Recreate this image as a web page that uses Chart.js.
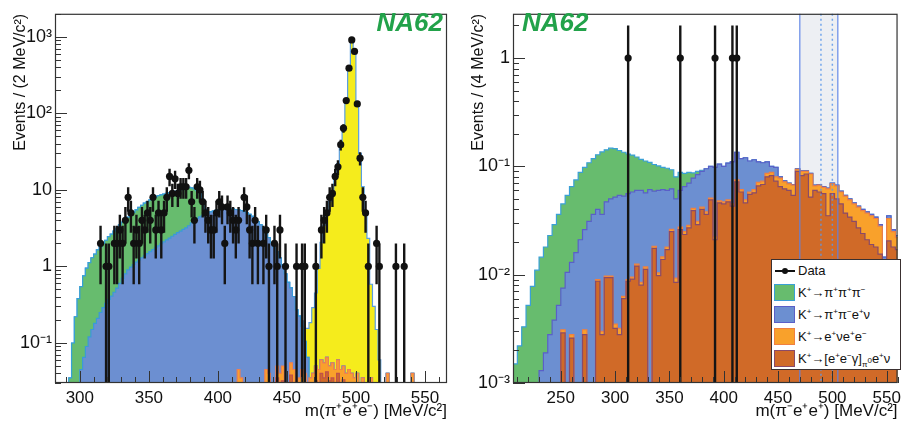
<!DOCTYPE html>
<html>
<head>
<meta charset="utf-8">
<script src="https://cdn.jsdelivr.net/npm/chart.js@4.4.1/dist/chart.umd.min.js"></script>
<style>
  body { margin: 0; background: #fff; width: 906px; height: 425px; position: relative; overflow: hidden; }
  .panel { position: absolute; top: 0; width: 453px; height: 425px; }
  #pl { left: 0; }
  #pr { left: 453px; }
  .na62 { position: absolute; top: 9px; font: italic bold 26px/26px 'Liberation Sans', Arial, sans-serif; color: #22a24a; }
  .leg { position: absolute; left: 318px; top: 259px; width: 128px; height: 109px; background: #fff;
         border: 1.5px solid #3a3030; font: 13px/22px 'Liberation Sans', Arial, sans-serif; color: #111; }
  .leg .row { position: relative; height: 22px; padding-left: 26px; white-space: nowrap; }
  .leg .sw { position: absolute; left: 2px; top: 2px; width: 19px; height: 15px; border: 1.5px solid; }
  .leg .dline { position: absolute; left: 3px; top: 10px; width: 20px; height: 2px; background: #111; }
  .leg .ddot { position: absolute; left: 10px; top: 8px; width: 6px; height: 6px; border-radius: 50%; background: #111; }
  .leg sup, .leg sub { font-size: 8px; line-height: 0; }
</style>
</head>
<body>
<div id="pl" class="panel">
  <canvas id="cl" width="453" height="425"></canvas>
  <div class="na62" style="right:10px">NA62</div>
</div>
<div id="pr" class="panel">
  <canvas id="cr" width="453" height="425"></canvas>
  <div class="na62" style="left:69px">NA62</div>
  <div class="leg" id="leg"></div>
</div>
<script>
// ---------- left panel: m(pi+ e+ e-), 2 MeV bins ----------
const leftXRange = [282, 566];
const leftYRange = [0.03, 2000];
const leftXTicks = [300, 350, 400, 450, 500, 550];
const leftYTicks = [0.1, 1, 10, 100, 1000];

// MC components, values per bin, first bin low edge in *Start
const leftEegStart = 414;
const leftEeg = [0.03, 0.025, 0, 0, 0, 0, 0, 0, 0, 0, 0.03, 0.028, 0, 0, 0.035, 0.028, 0.032, 0, 0, 0.038,
  0.03, 0, 0.022, 0.03, 0.026, 0.02, 0.022, 0.026, 0.032, 0.03, 0.04, 0.035, 0.042, 0.032, 0.035, 0.03,
  0.04, 0.03, 0.033, 0.026, 0.03, 0.026, 0.022, 0.026, 0.02, 0.022, 0.02, 0.02, 0.022, 0, 0, 0, 0, 0,
  0.025, 0, 0, 0, 0, 0, 0, 0, 0, 0.025];
const leftEnuStart = 414;
const leftEnu = [0.015, 0.01, 0, 0, 0, 0, 0, 0, 0, 0, 0.015, 0.012, 0, 0, 0.015, 0.012, 0.018, 0, 0, 0.017,
  0.015, 0, 0.013, 0.015, 0.014, 0.01, 0.013, 0.014, 0.018, 0.015, 0.02, 0.02, 0.023, 0.018, 0.02, 0.015,
  0.02, 0.015, 0.017, 0.014, 0.015, 0.014, 0.013, 0.014, 0.01, 0.013, 0.01, 0.01, 0.013, 0, 0, 0, 0, 0,
  0.015, 0, 0, 0, 0, 0, 0, 0, 0, 0.015];
const leftBlueStart = 298;
const leftBlue = [0.03, 0.045, 0.065, 0.09, 0.12, 0.15, 0.18, 0.21, 0.25, 0.29, 0.33, 0.37, 0.41, 0.46,
  0.52, 0.6, 0.7, 0.8, 0.9, 0.98, 1.06, 1.14, 1.22, 1.3, 1.38, 1.47, 1.56, 1.66, 1.76, 1.86, 1.98, 2.1,
  2.22, 2.35, 2.48, 2.62, 2.76, 2.9, 3.05, 3.2, 3.4, 3.7, 4.0, 4.25, 4.45, 4.65, 4.85, 5.0, 5.15, 5.3,
  5.4, 5.5, 5.6, 5.65, 5.7, 5.7, 5.65, 5.55, 5.45, 5.35, 5.2, 5.0, 4.8, 4.5, 4.2, 3.85, 3.5, 3.1, 2.7,
  2.35, 2.05, 1.75, 1.5, 1.25, 1.0, 0.8, 0.62, 0.47, 0.36, 0.27, 0.19, 0.12, 0.065, 0.035];
const leftGreenStart = 290;
const leftGreen = [0, 0.035, 0.1, 0.22, 0.35, 0.5, 0.69, 0.86, 1.0, 1.15, 1.27, 1.44, 1.55, 1.71, 1.87,
  2.08, 2.24, 2.44, 2.63, 2.9, 3.1, 3.3, 3.5, 3.72, 4.04, 4.36, 4.68, 5.0, 5.32, 5.53, 5.84, 6.14, 6.34,
  6.54, 6.62, 6.7, 6.78, 6.85, 6.92, 6.98, 7.04, 7.1, 7.25, 7.3, 7.4, 6.9, 6.3, 5.55, 4.75, 2.85, 0.75];
const leftYellowStart = 460;
const leftYellow = [0.03, 0.05, 0.09, 0.15, 0.25, 0.4, 0.9, 2.0, 3.4, 5.0, 7.0, 9.5, 14, 22, 38, 66, 140,
  400, 930, 650, 140, 30, 11, 5, 2.3, 0.55, 0.3, 0.15, 0.06, 0.03];

const leftDataM = [315, 319, 321, 325, 327, 329, 331, 333, 335, 337, 339, 341, 343, 345, 347, 349, 351,
  353, 355, 357, 359, 361, 363, 365, 367, 369, 371, 373, 375, 377, 379, 381, 383, 385, 387, 389, 391, 393,
  395, 397, 399, 401, 403, 405, 407, 409, 411, 413, 415, 419, 421, 423, 425, 427, 429, 433, 435, 437, 441,
  443, 445, 449, 457, 461, 463, 471, 475, 477, 479, 481, 483, 485, 487, 489, 491, 493, 495, 497, 499, 501,
  503, 505, 507, 509, 515, 517, 529, 535];
const leftDataN = [2, 1, 1, 2, 2, 3, 2, 4, 8, 5, 2, 3, 2, 4, 3, 5, 4, 8, 3, 5, 3, 5, 8, 15, 9, 14, 9, 11,
  11, 11, 18, 7, 4, 11, 10, 7, 5, 4, 3, 3, 5, 7, 6, 2, 6, 5, 4, 3, 4, 8, 6, 3, 2, 4, 2, 2, 3, 1, 2, 1, 3,
  1, 1, 1, 1, 1, 3, 4, 5, 8, 9, 15, 20, 39, 64, 147, 390, 910, 645, 133, 26, 8, 5, 1, 2, 1, 1, 1];

// ---------- right panel: m(pi- e+ e+), 4 MeV bins from 206 ----------
const rightXRange = [206, 560];
const rightYRange = [0.001, 2.56];
const rightXTicks = [250, 300, 350, 400, 450, 500, 550];
const rightYTicks = [0.001, 0.01, 0.1, 1];
const rightStart = 206;
const rightEeg = [0, 0, 0, 0, 0, 0, 0, 0, 0, 0, 0, 0.0029, 0, 0.0026, 0, 0, 0.0028, 0, 0, 0.0087, 0.0028,
  0.0094, 0.0094, 0.0032, 0.0028, 0.006, 0.0087, 0.0091, 0.012, 0.008, 0.0112, 0, 0.0175, 0.0098, 0.0138,
  0.017, 0.025, 0.0085, 0.026, 0.0235, 0.027, 0.039, 0.029, 0.04, 0.036, 0.049, 0.021, 0.046, 0.045,
  0.047, 0.043, 0.072, 0.058, 0.046, 0.055, 0.057, 0.066, 0.068, 0.08, 0.082, 0.073, 0.065, 0.062, 0.06,
  0.054, 0.09, 0.082, 0.085, 0.052, 0.06, 0.058, 0.056, 0.035, 0.056, 0.05, 0.045, 0.037, 0.034, 0.031,
  0.027, 0.024, 0.021, 0.019, 0.018, 0.0155, 0.0135, 0.0205, 0.018, 0.017];
const rightEnu = [0, 0, 0, 0, 0, 0, 0, 0, 0, 0, 0, 0.0002, 0, 0.0002, 0, 0, 0.0003, 0, 0, 0.0003, 0.0002,
  0.0003, 0.0003, 0.0003, 0.0004, 0.0003, 0.0003, 0.0004, 0.0005, 0.0005, 0.0006, 0, 0.0008, 0.0006,
  0.0008, 0.001, 0.0012, 0.0008, 0.0015, 0.0015, 0.0015, 0.002, 0.002, 0.002, 0.002, 0.002, 0.0015, 0.002,
  0.002, 0.002, 0.002, 0.003, 0.003, 0.003, 0.003, 0.004, 0.005, 0.005, 0.006, 0.006, 0.007, 0.013, 0.01,
  0.009, 0.013, 0.004, 0.008, 0.005, 0.033, 0.006, 0.009, 0.008, 0.027, 0.013, 0.016, 0.013, 0.016,
  0.015, 0.014, 0.015, 0.015, 0.016, 0.016, 0.015, 0.0125, 0, 0.0125, 0.007, 0.005];
const rightBlue = [0, 0, 0, 0, 0, 0.0009, 0.0013, 0.0019, 0.0028, 0.0038, 0.0052, 0.0044, 0.0105, 0.0102,
  0.016, 0.021, 0.0229, 0.031, 0.036, 0.031, 0.033, 0.0373, 0.0403, 0.0485, 0.0508, 0.0467, 0.047, 0.0485,
  0.0475, 0.0515, 0.0452, 0.061, 0.0407, 0.0496, 0.0464, 0.042, 0.0358, 0.0407, 0.0325, 0.04, 0.0415,
  0.037, 0.053, 0.048, 0.057, 0.049, 0.0755, 0.057, 0.053, 0.058, 0.065, 0.06, 0.057, 0.071, 0.054, 0.054,
  0.039, 0.035, 0.024, 0.012, 0.018, 0.002, 0.0015, 0.001, 0.001, 0.001, 0.001, 0.001, 0.001, 0.001,
  0.001, 0.001, 0.001, 0.001, 0.001, 0.001, 0.001, 0.001, 0.001, 0.001, 0.001, 0.001, 0.001, 0.001,
  0.001, 0.001, 0.002, 0.001, 0.001];
const rightGreen = [0.0015, 0.0022, 0.0033, 0.0052, 0.0078, 0.0101, 0.0132, 0.0161, 0.0202, 0.0252,
  0.0308, 0.0375, 0.0435, 0.052, 0.059, 0.067, 0.072, 0.077, 0.082, 0.088, 0.1, 0.095, 0.097, 0.094, 0.086,
  0.082, 0.074, 0.069, 0.062, 0.056, 0.055, 0.048, 0.045, 0.041, 0.037, 0.036, 0.031, 0.03, 0.028, 0.021,
  0.018, 0.009, 0.006, 0.002];
const rightDataM = [312, 360, 392, 408, 412];
const rightDataN = [1, 1, 1, 1, 1];
const rightSignalEdges = [470, 505];
const rightSignalInner = [489.5, 500];

const legendItems = [
  { label: 'K<sup>+</sup>→π<sup>+</sup>π<sup>+</sup>π<sup>−</sup>', fill: '#67bc6e', line: '#3aa0d6' },
  { label: 'K<sup>+</sup>→π<sup>+</sup>π<sup>−</sup>e<sup>+</sup>ν', fill: '#6c8fd1', line: '#5a5fc8' },
  { label: 'K<sup>+</sup>→e<sup>+</sup>νe<sup>+</sup>e<sup>−</sup>', fill: '#f9a12b', line: '#f08040' },
  { label: 'K<sup>+</sup>→[e<sup>+</sup>e<sup>−</sup>γ]<sub>π<sup>0</sup></sub>e<sup>+</sup>ν', fill: '#d06a28', line: '#8a4a68' }
];

const FLOOR = 1e-5;
const FONT = "'Liberation Sans', Arial, sans-serif";

// sum components (bottom -> top) on a common grid
function stackLayers(comps, start, width, nBins) {
  let cum = new Array(nBins).fill(0);
  return comps.map(c => {
    const off = Math.round((c.start - start) / width);
    cum = cum.map((v, i) => {
      const j = i - off;
      return v + (j >= 0 && j < c.values.length ? c.values[j] : 0);
    });
    return cum.slice();
  });
}

function histDataset(cum, start, width, fill, line, order) {
  const pts = [{ x: start, y: FLOOR }];
  cum.forEach((v, i) => pts.push({ x: start + i * width, y: Math.max(v, FLOOR) }));
  pts.push({ x: start + cum.length * width, y: Math.max(cum[cum.length - 1], FLOOR) });
  pts.push({ x: start + cum.length * width, y: FLOOR });
  return {
    data: pts, stepped: true, fill: 'start', backgroundColor: fill, borderColor: line,
    borderWidth: 1.2, pointRadius: 0, order
  };
}

function dataSets(ms, ns) {
  const bars = [];
  ms.forEach((m, i) => {
    const e = Math.sqrt(ns[i]);
    bars.push({ x: m, y: Math.max(ns[i] - e, FLOOR) }, { x: m, y: ns[i] + e }, { x: m, y: null });
  });
  return [
    { data: ms.map((m, i) => ({ x: m, y: ns[i] })), showLine: false, pointRadius: 3.6,
      pointBackgroundColor: '#111', pointBorderWidth: 0, order: 0 },
    { data: bars, borderColor: '#151515', borderWidth: 2.4, pointRadius: 0, spanGaps: false, order: 1 }
  ];
}

function decadeLabel(v) {
  const e = Math.round(Math.log10(v));
  if (e === 0) return '1';
  if (e === 1) return '10';
  const sup = { '-': '⁻', '0': '⁰', '1': '¹', '2': '²', '3': '³' };
  return '10' + String(e).split('').map(c => sup[c]).join('');
}

const rootFrame = {
  id: 'rootFrame',
  beforeDatasetsDraw(chart, args, opts) {
    if (!opts.band) return;
    const { ctx, chartArea: a, scales: { x } } = chart;
    const x0 = x.getPixelForValue(opts.band[0]), x1 = x.getPixelForValue(opts.band[1]);
    ctx.save();
    ctx.fillStyle = 'rgba(215,220,228,0.45)';
    ctx.fillRect(x0, a.top, x1 - x0, a.bottom - a.top);
    ctx.restore();
  },
  afterDatasetsDraw(chart, args, opts) {
    const { ctx, chartArea: a, scales: { x, y } } = chart;
    ctx.save();
    if (opts.band) {
      ctx.lineWidth = 1.5;
      ctx.strokeStyle = 'rgba(90,130,230,0.75)';
      opts.band.forEach(v => {
        const px = x.getPixelForValue(v);
        ctx.beginPath(); ctx.moveTo(px, a.top); ctx.lineTo(px, a.bottom); ctx.stroke();
      });
      ctx.setLineDash([2, 3]);
      ctx.strokeStyle = 'rgba(90,150,235,0.85)';
      opts.inner.forEach(v => {
        const px = x.getPixelForValue(v);
        ctx.beginPath(); ctx.moveTo(px, a.top); ctx.lineTo(px, a.bottom); ctx.stroke();
      });
      ctx.setLineDash([]);
    }
    ctx.strokeStyle = '#333';
    ctx.lineWidth = 1;
    for (let v = Math.ceil(x.min / 10) * 10; v <= x.max; v += 10) {
      const px = Math.round(x.getPixelForValue(v)) + 0.5;
      const len = v % 50 === 0 ? 12 : 6;
      ctx.beginPath(); ctx.moveTo(px, a.bottom); ctx.lineTo(px, a.bottom - len); ctx.stroke();
    }
    for (let d = Math.floor(Math.log10(y.min)); d <= Math.ceil(Math.log10(y.max)); d++) {
      for (let m = 1; m <= 9; m++) {
        const v = m * Math.pow(10, d);
        if (v < y.min || v > y.max) continue;
        const py = Math.round(y.getPixelForValue(v)) + 0.5;
        const len = m === 1 ? 12 : 6;
        ctx.beginPath(); ctx.moveTo(a.left, py); ctx.lineTo(a.left + len, py); ctx.stroke();
      }
    }
    ctx.lineWidth = 1.2;
    ctx.strokeRect(a.left + 0.5, a.top + 0.5, a.right - a.left - 1, a.bottom - a.top - 1);
    ctx.restore();
  }
};

function makeChart(id, cfg) {
  return new Chart(document.getElementById(id), {
    type: 'line',
    data: { datasets: cfg.datasets },
    plugins: [rootFrame],
    options: {
      responsive: false, animation: false, events: [], devicePixelRatio: 1,
      layout: { padding: { left: 0, top: 7, right: cfg.padRight, bottom: 0 } },
      plugins: {
        legend: { display: false }, tooltip: { enabled: false },
        rootFrame: { band: cfg.band, inner: cfg.inner }
      },
      scales: {
        x: {
          type: 'linear', min: cfg.xRange[0], max: cfg.xRange[1],
          grid: { display: false, drawTicks: false }, border: { display: false },
          afterBuildTicks: s => { s.ticks = cfg.xTicks.map(v => ({ value: v })); },
          afterFit: s => { s.height = 42; },
          ticks: { autoSkip: false, maxRotation: 0, padding: 5, color: '#111',
                   font: { family: FONT, size: 17 }, callback: v => String(v) },
          title: { display: true, text: cfg.xTitle, align: 'end', color: '#111',
                   font: { family: FONT, size: 17 }, padding: { top: 0, bottom: 3 } }
        },
        y: {
          type: 'logarithmic', min: cfg.yRange[0], max: cfg.yRange[1],
          grid: { display: false, drawTicks: false }, border: { display: false },
          afterBuildTicks: s => { s.ticks = cfg.yTicks.map(v => ({ value: v })); },
          afterFit: s => { s.width = cfg.yWidth; },
          ticks: { autoSkip: false, padding: 3, color: '#111',
                   font: { family: FONT, size: 18 }, callback: v => decadeLabel(v) },
          title: { display: true, text: cfg.yTitle, align: 'end', color: '#111',
                   font: { family: FONT, size: 16 }, padding: { top: cfg.yTitlePad, bottom: 0 } }
        }
      }
    }
  });
}

// left panel layers (bottom -> top)
const leftN = (546 - leftGreenStart) / 2;
const leftCum = stackLayers([
  { start: leftEegStart, values: leftEeg },
  { start: leftEnuStart, values: leftEnu },
  { start: leftBlueStart, values: leftBlue },
  { start: leftGreenStart, values: leftGreen },
  { start: leftYellowStart, values: leftYellow }
], leftGreenStart, 2, leftN);
const leftStyles = [
  ['#d06a28', '#c0504a'], ['#f9a12b', '#f07f50'], ['#6c8fd1', '#3a9ad8'],
  ['#67bc6e', '#35a0d8'], ['#f5ec1c', '#5a9ee0']
];
makeChart('cl', {
  datasets: [
    ...dataSets(leftDataM, leftDataN),
    ...leftCum.map((c, i) => histDataset(c, leftGreenStart, 2, leftStyles[i][0], leftStyles[i][1], 2 + i))
  ],
  xRange: leftXRange, yRange: leftYRange, xTicks: leftXTicks, yTicks: leftYTicks,
  xTitle: 'm(π⁺e⁺e⁻) [MeV/c²]', yTitle: 'Events / (2 MeV/c²)',
  padRight: 6, yWidth: 55, yTitlePad: 11
});

// right panel layers (bottom -> top)
const rightCum = stackLayers([
  { start: rightStart, values: rightEeg },
  { start: rightStart, values: rightEnu },
  { start: rightStart, values: rightBlue },
  { start: rightStart, values: rightGreen }
], rightStart, 4, rightEeg.length);
const rightStyles = legendItems.slice().reverse();
makeChart('cr', {
  datasets: [
    ...dataSets(rightDataM, rightDataN),
    ...rightCum.map((c, i) => histDataset(c, rightStart, 4, rightStyles[i].fill, rightStyles[i].line, 2 + i))
  ],
  xRange: rightXRange, yRange: rightYRange, xTicks: rightXTicks, yTicks: rightYTicks,
  xTitle: 'm(π⁻e⁺e⁺) [MeV/c²]', yTitle: 'Events / (4 MeV/c²)',
  padRight: 5, yWidth: 60, yTitlePad: 16,
  band: rightSignalEdges, inner: rightSignalInner
});

// legend box (right panel)
const leg = document.getElementById('leg');
leg.innerHTML = '<div class="row"><span class="dline"></span><span class="ddot"></span>Data</div>' +
  legendItems.map(it => '<div class="row"><span class="sw" style="background:' + it.fill +
    ';border-color:' + it.line + '"></span>' + it.label + '</div>').join('');
</script>
</body>
</html>
